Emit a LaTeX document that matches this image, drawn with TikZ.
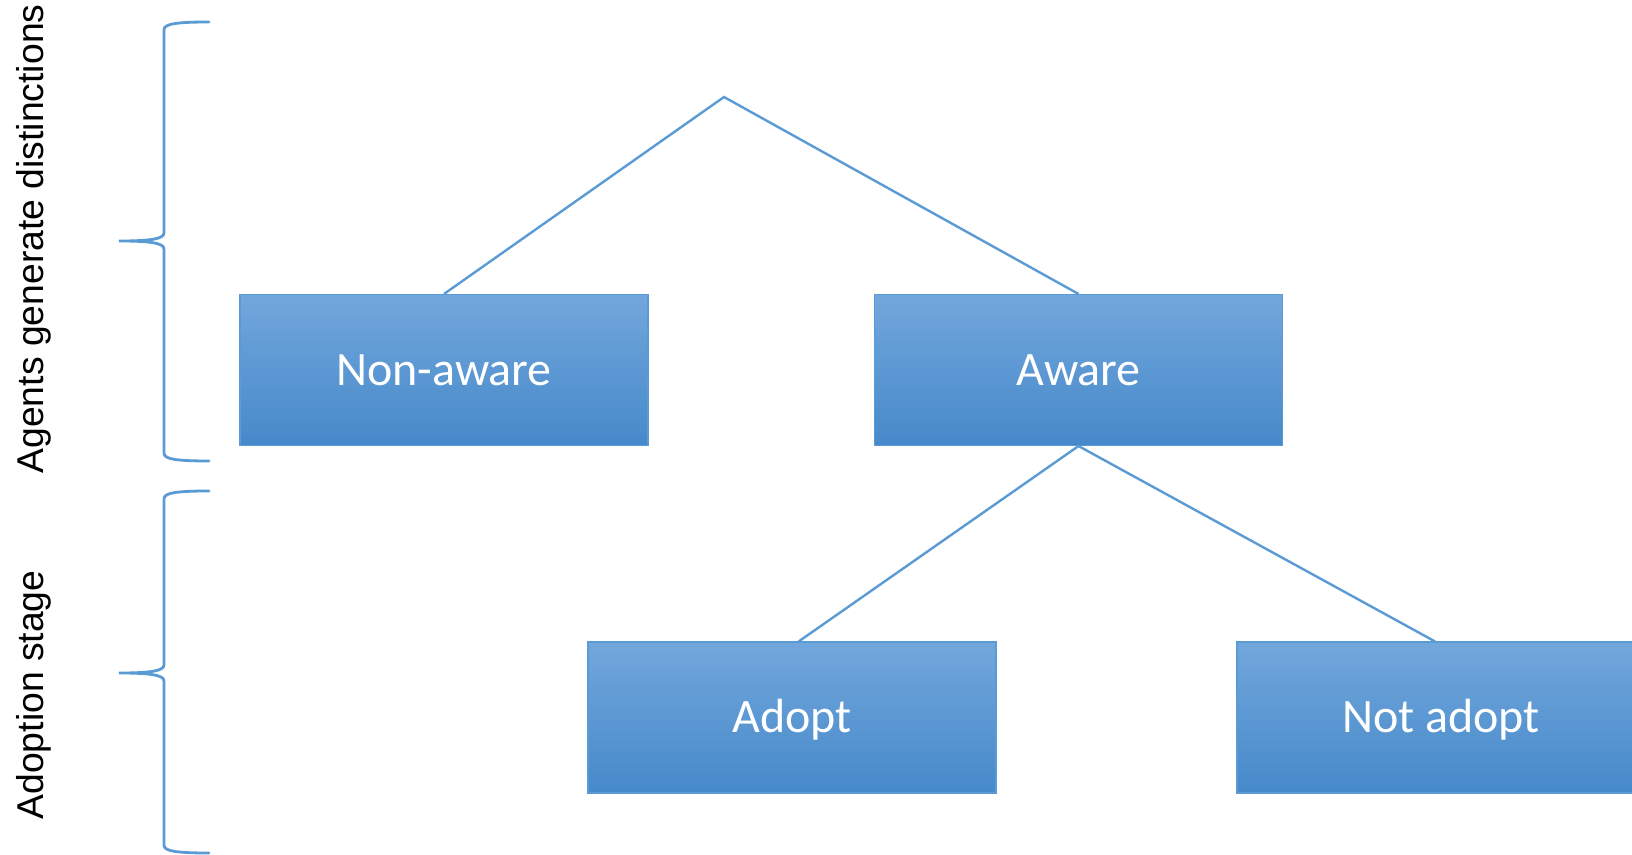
\documentclass[tikz,border=0pt]{standalone}
\usepackage{fontspec}
\setmainfont{Carlito}
\newfontfamily\arialfont{Liberation Sans}
\definecolor{lineblue}{RGB}{91,155,213}
\definecolor{boxtop}{RGB}{114,167,220}
\definecolor{boxbot}{RGB}{70,137,202}
\begin{document}
\begin{tikzpicture}[x=0.75pt,y=-0.75pt,
  box/.style={draw=lineblue,line width=0.8pt,top color=boxtop,bottom color=boxbot,
    minimum width=306pt,minimum height=113.25pt,inner sep=0pt,text=white,
    font=\fontsize{36}{43}\selectfont,text height=23.2pt,text depth=0pt},
  link/.style={draw=lineblue,line width=1.8pt},
  brace/.style={draw=lineblue,line width=2.1pt},
  side/.style={rotate=90,anchor=base,text=black,inner sep=0pt,font=\arialfont\fontsize{28}{32}\selectfont}]
\useasboundingbox (0,0) rectangle (1632,855);
\fill[white] (0,0) rectangle (1632,855);
% boxes
\node[box] (nonaware) at (444,370) {Non-aware};
\node[box] (aware) at (1078.5,370) {Aware};
\node[box] (adopt) at (792,717.5) {Adopt};
\node[box] (notadopt) at (1441,717.5) {Not adopt};
\coordinate (apex) at (724,97);
% connectors
\draw[link] (nonaware.north) -- (apex) -- (aware.north);
\draw[link] ([xshift=5pt]adopt.north) -- (aware.south) -- ([xshift=-4.5pt]notadopt.north);
% braces
\draw[brace,line cap=round] (209,22) .. controls (175,22) and (164,24) .. (164,30) -- (164,233)
  .. controls (164,239) and (150,241) .. (119,241)
  .. controls (150,241) and (164,243) .. (164,249) -- (164,453)
  .. controls (164,459) and (175,461) .. (209,461);
\draw[brace,line cap=round] (209,491) .. controls (175,491) and (164,493) .. (164,499) -- (164,665)
  .. controls (164,671) and (150,673) .. (119,673)
  .. controls (150,673) and (164,675) .. (164,681) -- (164,845)
  .. controls (164,851) and (175,853) .. (209,853);
% side labels
\node[side] (agents) at (43,239) {Agents generate distinctions};
\node[side] (stage) at (43,695) {Adoption stage};
\end{tikzpicture}
\end{document}
